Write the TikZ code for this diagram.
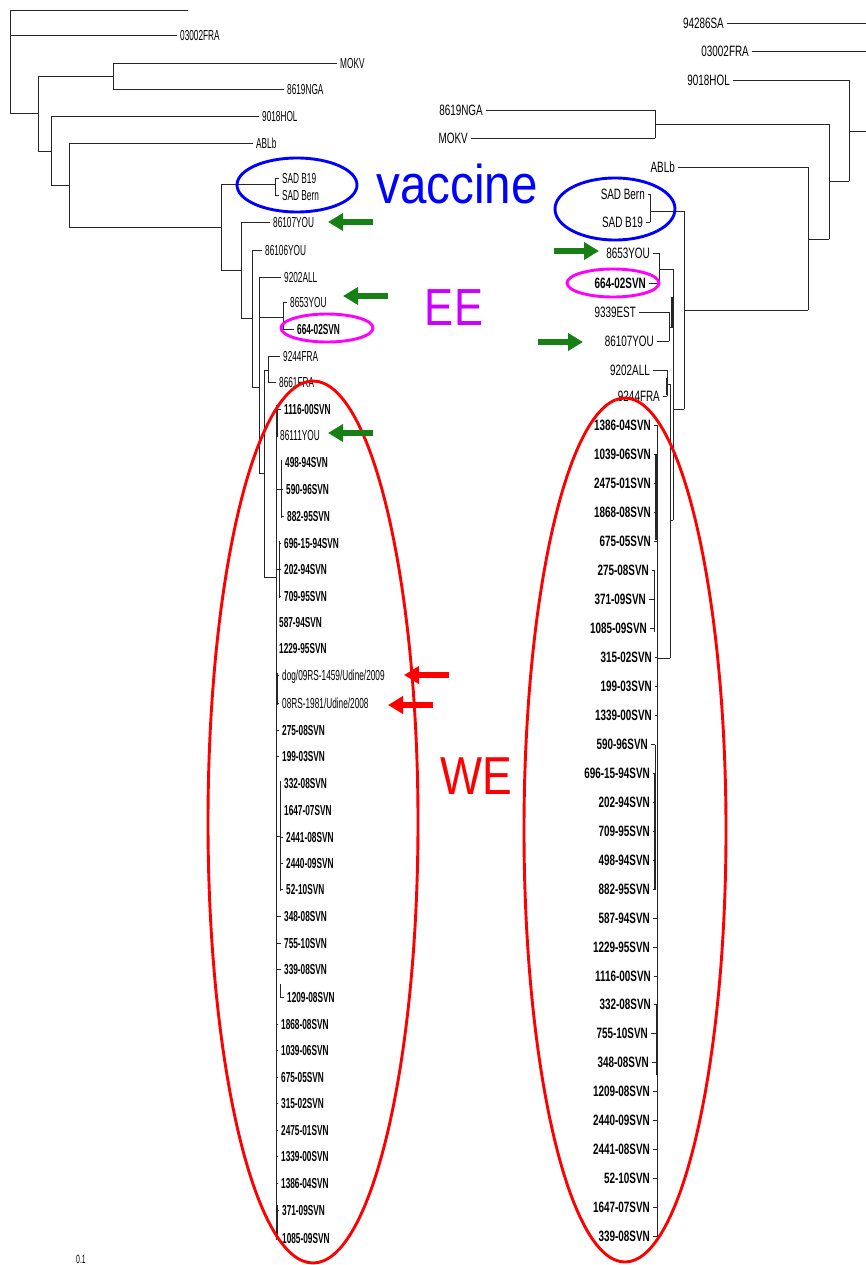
\documentclass[tikz,border=0pt]{standalone}
\usepackage{fontspec}
\usepackage{graphicx}
\usetikzlibrary{arrows.meta}
\setmainfont{Liberation Sans}
\newfontfamily\lfnt{Liberation Sans}[FakeStretch=0.57]
\newfontfamily\rfnt{Liberation Sans}[FakeStretch=0.66]
\definecolor{arrgreen}{RGB}{22,128,22}
\definecolor{eemag}{RGB}{204,0,255}
\definecolor{elmag}{RGB}{255,0,255}
\tikzset{
  br/.style={line width=0.8pt, black!85},
  labL/.style={font=\lfnt\fontsize{14.5}{16}\selectfont, anchor=west, inner sep=0pt, text height=10.4pt, text depth=0pt},
  labLb/.style={labL, font=\lfnt\fontsize{14.5}{16}\selectfont\bfseries},
  labR/.style={font=\rfnt\fontsize{15}{17}\selectfont, anchor=east, inner sep=0pt, text height=10.7pt, text depth=0pt},
  labRb/.style={labR, font=\rfnt\fontsize{15}{17}\selectfont\bfseries},
  garrow/.style={arrgreen, line width=6pt, -{Triangle[length=15pt,width=17pt]}},
  rarrow/.style={red, line width=6pt, -{Triangle[length=15pt,width=17pt]}},
  bigtxt/.style={anchor=base, inner sep=0pt},
  ell/.style={line width=2.9pt},
}
\newcommand\Lleaf[6][labL]{\node[#1] (#2) at (#4,#5) {#6};\draw[br] (#3,#5) -- ([xshift=-3pt]#2.west);}
\newcommand\Rleaf[6][labR]{\node[#1] (#2) at (#4,#5) {#6};\draw[br] ([xshift=3pt]#2.east) -- (#3,#5);}
\begin{document}
\begin{tikzpicture}[x=1pt,y=-1pt]
\useasboundingbox (0,0) rectangle (866,1265);
% ================= LEFT TREE =================
\draw[br] (10,10) -- (188,10);
\Lleaf{lFRA}{10}{180}{35}{03002FRA}
\draw[br] (10,10) -- (10,113) -- (38,113);
\draw[br] (38,76) -- (38,151);
\draw[br] (38,76) -- (113,76);
\draw[br] (113,63) -- (113,89);
\Lleaf{lMOKV}{113}{340}{63}{MOKV}
\Lleaf{lNGA}{113}{287}{89}{8619NGA}
\draw[br] (38,151) -- (51,151);
\draw[br] (51,116) -- (51,185);
\Lleaf{lHOL}{51}{262}{116}{9018HOL}
\draw[br] (51,185) -- (69,185);
\draw[br] (69,143) -- (69,227);
\Lleaf{lABLb}{69}{256}{143}{ABLb}
\draw[br] (69,227) -- (221,227);
\draw[br] (221,184) -- (221,270);
\draw[br] (221,184) -- (275,184);
\draw[br] (275,178) -- (275,195);
\Lleaf{lB19}{275}{282}{178}{SAD B19}
\Lleaf{lBern}{275}{282}{195}{SAD Bern}
\draw[br] (221,270) -- (241,270);
\draw[br] (241,222) -- (241,318);
\Lleaf{lY107}{241}{273}{222}{86107YOU}
\draw[br] (241,318) -- (252,318);
\draw[br] (252,250) -- (252,387);
\Lleaf{lY106}{252}{265}{250}{86106YOU}
\draw[br] (252,387) -- (259,387);
\draw[br] (259,277) -- (259,473);
\Lleaf{lALL}{259}{284}{277}{9202ALL}
\draw[br] (259,317) -- (283,317);
\draw[br] (283,302) -- (283,329);
\Lleaf{lY8653}{283}{290}{302}{8653YOU}
\Lleaf[labLb]{l664}{283}{297}{329}{664-02SVN}
\draw[br] (259,473) -- (264,473);
\draw[br] (264,370) -- (264,577);
\draw[br] (264,370) -- (268,370);
\draw[br] (268,356) -- (268,382);
\Lleaf{lF9244}{268}{283}{356}{9244FRA}
\Lleaf{lF8661}{268}{279}{382}{8661FRA}
\draw[br] (264,577) -- (276,577);
\draw[br] (276,405) -- (276,1240);
% WE clade left
\draw[br] (277,405) -- (277,437);
\draw[br] (276,489) -- (281,489); \draw[br] (281,460) -- (281,518);
\draw[br] (276,569) -- (279,569); \draw[br] (279,541) -- (279,598);
\draw[br,line width=1.6pt] (277,673) -- (277,705);
\draw[br] (276,836) -- (280,836); \draw[br] (280,781) -- (280,891);
\draw[br] (280,984) -- (280,997);
\draw[br,line width=1.6pt] (277,1205) -- (277,1238);
\Lleaf[labLb]{lw0}{277}{284}{409}{1116-00SVN}
\Lleaf{lw1}{277}{280}{435}{86111YOU}
\Lleaf[labLb]{lw2}{281}{285}{462}{498-94SVN}
\Lleaf[labLb]{lw3}{281}{286}{489}{590-96SVN}
\Lleaf[labLb]{lw4}{281}{287}{516}{882-95SVN}
\Lleaf[labLb]{lw5}{279}{284}{543}{696-15-94SVN}
\Lleaf[labLb]{lw6}{279}{284}{569}{202-94SVN}
\Lleaf[labLb]{lw7}{279}{284}{596}{709-95SVN}
\Lleaf[labLb]{lw8}{276}{279}{622}{587-94SVN}
\Lleaf[labLb]{lw9}{276}{279}{648}{1229-95SVN}
\Lleaf{lw10}{277}{282}{675}{dog/09RS-1459/Udine/2009}
\Lleaf{lw11}{277}{282}{703}{08RS-1981/Udine/2008}
\Lleaf[labLb]{lw12}{276}{282}{730}{275-08SVN}
\Lleaf[labLb]{lw13}{276}{282}{756}{199-03SVN}
\Lleaf[labLb]{lw14}{280}{284}{783}{332-08SVN}
\Lleaf[labLb]{lw15}{280}{284}{810}{1647-07SVN}
\Lleaf[labLb]{lw16}{280}{286}{837}{2441-08SVN}
\Lleaf[labLb]{lw17}{280}{286}{863}{2440-09SVN}
\Lleaf[labLb]{lw18}{280}{286}{889}{52-10SVN}
\Lleaf[labLb]{lw19}{276}{284}{916}{348-08SVN}
\Lleaf[labLb]{lw20}{276}{284}{943}{755-10SVN}
\Lleaf[labLb]{lw21}{276}{284}{969}{339-08SVN}
\Lleaf[labLb]{lw22}{280}{287}{997}{1209-08SVN}
\Lleaf[labLb]{lw23}{276}{281}{1024}{1868-08SVN}
\Lleaf[labLb]{lw24}{276}{281}{1050}{1039-06SVN}
\Lleaf[labLb]{lw25}{276}{281}{1077}{675-05SVN}
\Lleaf[labLb]{lw26}{276}{281}{1103}{315-02SVN}
\Lleaf[labLb]{lw27}{276}{281}{1130}{2475-01SVN}
\Lleaf[labLb]{lw28}{276}{281}{1156}{1339-00SVN}
\Lleaf[labLb]{lw29}{276}{281}{1183}{1386-04SVN}
\Lleaf[labLb]{lw30}{277}{282}{1210}{371-09SVN}
\Lleaf[labLb]{lw31}{277}{282}{1238}{1085-09SVN}
% ================= RIGHT TREE =================
\Rleaf{rSA}{866}{724}{23}{94286SA}
\Rleaf{rFRA}{866}{749}{51}{03002FRA}
\Rleaf{rHOL}{849}{730}{80}{9018HOL}
\draw[br] (849,80) -- (849,181);
\draw[br] (849,131) -- (866,131);
\Rleaf{rNGA}{655}{483}{110}{8619NGA}
\Rleaf{rMOKV}{655}{468}{138}{MOKV}
\draw[br] (655,110) -- (655,138);
\draw[br] (655,124) -- (829,124);
\draw[br] (829,124) -- (829,239);
\draw[br] (829,181) -- (849,181);
\Rleaf{rABLb}{808}{675}{167}{ABLb}
\draw[br] (808,167) -- (808,310);
\draw[br] (808,239) -- (829,239);
\draw[br] (684,310) -- (808,310);
\draw[br] (684,211) -- (684,409);
\draw[br] (650,211) -- (684,211);
\draw[br] (650,194) -- (650,222);
\Rleaf{rBern}{650}{645}{194}{SAD Bern}
\Rleaf{rB19}{650}{643}{222}{SAD B19}
\draw[br] (673,409) -- (684,409);
\draw[br] (673,269) -- (673,520);
\draw[br] (659,269) -- (673,269);
\draw[br] (659,253) -- (659,283);
\Rleaf{rY8653}{659}{650}{253}{8653YOU}
\Rleaf[labRb]{r664}{659}{646}{283}{664-02SVN}
\draw[br] (669,312) -- (669,341);
\draw[br] (669,327) -- (673,327);
\draw[br,line width=1.6pt] (672,297) -- (672,327);
\Rleaf{rEST}{669}{636}{312}{9339EST}
\Rleaf{rY107}{669}{654}{341}{86107YOU}
\draw[br] (667,370) -- (667,396);
\Rleaf{rALL}{667}{650}{370}{9202ALL}
\Rleaf{rF9244}{667}{660}{396}{9244FRA}
\draw[br,line width=1.4pt] (667,378) -- (667,395);
\draw[br] (667,384) -- (670,384);
\draw[br] (670,384) -- (670,658);
\draw[br] (670,520) -- (673,520);
\draw[br] (657,658) -- (670,658);
\draw[br] (657,425) -- (657,1238);
\draw[br,line width=1.4pt] (656,455) -- (656,540);
\draw[br] (654,570) -- (654,632);
\draw[br,line width=1.6pt] (655,773) -- (655,890);
\draw[br] (655,745) -- (655,773);
\draw[br,line width=1.4pt] (657,1004) -- (657,1075);
% WE clade right
\Rleaf[labRb]{rw0}{657}{651}{425}{1386-04SVN}
\Rleaf[labRb]{rw1}{657}{651}{454}{1039-06SVN}
\Rleaf[labRb]{rw2}{657}{651}{483}{2475-01SVN}
\Rleaf[labRb]{rw3}{657}{651}{512}{1868-08SVN}
\Rleaf[labRb]{rw4}{657}{651}{541}{675-05SVN}
\Rleaf[labRb]{rw5}{654}{649}{570}{275-08SVN}
\Rleaf[labRb]{rw6}{654}{646}{599}{371-09SVN}
\Rleaf[labRb]{rw7}{654}{647}{628}{1085-09SVN}
\Rleaf[labRb]{rw8}{657}{652}{657}{315-02SVN}
\Rleaf[labRb]{rw9}{657}{652}{686}{199-03SVN}
\Rleaf[labRb]{rw10}{657}{652}{715}{1339-00SVN}
\Rleaf[labRb]{rw11}{655}{648}{744}{590-96SVN}
\Rleaf[labRb]{rw12}{655}{650}{773}{696-15-94SVN}
\Rleaf[labRb]{rw13}{655}{650}{802}{202-94SVN}
\Rleaf[labRb]{rw14}{655}{650}{831}{709-95SVN}
\Rleaf[labRb]{rw15}{655}{650}{860}{498-94SVN}
\Rleaf[labRb]{rw16}{655}{650}{889}{882-95SVN}
\Rleaf[labRb]{rw17}{657}{650}{918}{587-94SVN}
\Rleaf[labRb]{rw18}{657}{650}{947}{1229-95SVN}
\Rleaf[labRb]{rw19}{657}{651}{976}{1116-00SVN}
\Rleaf[labRb]{rw20}{657}{651}{1004}{332-08SVN}
\Rleaf[labRb]{rw21}{657}{648}{1033}{755-10SVN}
\Rleaf[labRb]{rw22}{657}{649}{1062}{348-08SVN}
\Rleaf[labRb]{rw23}{657}{650}{1091}{1209-08SVN}
\Rleaf[labRb]{rw24}{657}{650}{1120}{2440-09SVN}
\Rleaf[labRb]{rw25}{657}{650}{1149}{2441-08SVN}
\Rleaf[labRb]{rw26}{657}{650}{1178}{52-10SVN}
\Rleaf[labRb]{rw27}{657}{650}{1207}{1647-07SVN}
\Rleaf[labRb]{rw28}{657}{650}{1236}{339-08SVN}
% scale
\node[font=\lfnt\fontsize{12}{14}\selectfont, anchor=south, inner sep=0pt] (scale) at (81,1264) {0.1};
% ================= ANNOTATIONS =================
\draw[ell, blue] (297,185) ellipse [x radius=60, y radius=27];
\draw[ell, blue] (615,209) ellipse [x radius=60, y radius=31];
\draw[ell, elmag] (327,328) ellipse [x radius=46, y radius=14];
\draw[ell, elmag] (613,283) ellipse [x radius=46, y radius=14];
\draw[ell, red] (313,822) ellipse [x radius=105, y radius=441];
\draw[ell, red] (625,830) ellipse [x radius=101, y radius=432];
\node[bigtxt, text=blue, font=\fontsize{47.5}{50}\selectfont] (vac) at (457,204) {\scalebox{1}[1.15]{vaccine}};
\node[bigtxt, text=eemag, font=\fontsize{43.5}{46}\selectfont] (ee) at (454,325) {\scalebox{1}[1.2]{EE}};
\node[bigtxt, text=red, font=\fontsize{44.5}{46}\selectfont] (we) at (476,794) {\scalebox{1}[1.2]{WE}};
% arrows
\coordinate (g1s) at (373,222); \coordinate (g1e) at (328,222);
\coordinate (g2s) at (388,296); \coordinate (g2e) at (343,296);
\coordinate (g3s) at (373,433); \coordinate (g3e) at (328,433);
\coordinate (g4s) at (554,251); \coordinate (g4e) at (599,251);
\coordinate (g5s) at (538,342); \coordinate (g5e) at (583,342);
\coordinate (r1s) at (449,675); \coordinate (r1e) at (404,675);
\coordinate (r2s) at (433,705); \coordinate (r2e) at (388,705);
\draw[garrow] (g1s) -- (g1e);
\draw[garrow] (g2s) -- (g2e);
\draw[garrow] (g3s) -- (g3e);
\draw[garrow] (g4s) -- (g4e);
\draw[garrow] (g5s) -- (g5e);
\draw[rarrow] (r1s) -- (r1e);
\draw[rarrow] (r2s) -- (r2e);
\end{tikzpicture}
\end{document}
